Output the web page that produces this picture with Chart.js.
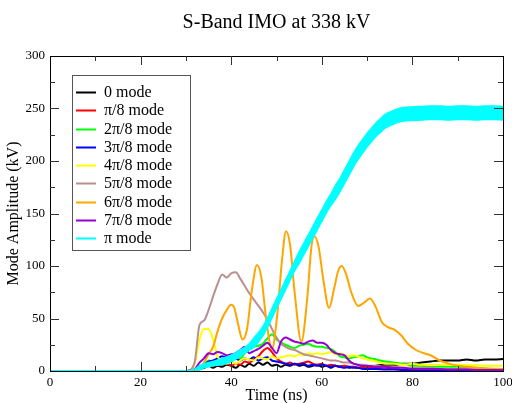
<!DOCTYPE html>
<html><head><meta charset="utf-8">
<script src="https://cdn.jsdelivr.net/npm/chart.js@4/dist/chart.umd.min.js"></script>
<style>html,body{margin:0;padding:0;background:#fff}</style>
</head><body>
<canvas id="c" width="512" height="403"></canvas>
<script>
// ---------- DATA ----------
const chartTitle = 'S-Band IMO at 338 kV';
const xTitle = 'Time (ns)';
const yTitle = 'Mode Amplitude (kV)';
const xTickValues = [0, 20, 40, 60, 80, 100];
const yTickValues = [0, 50, 100, 150, 200, 250, 300];
const legendLabels = ['0 mode', 'π/8 mode', '2π/8 mode', '3π/8 mode', '4π/8 mode', '5π/8 mode', '6π/8 mode', '7π/8 mode', 'π mode'];

// shared time base (ns) for the low-level modes
const time = [0,
  30,31,32,33,34,35,36,37,38,39,
  40,41,42,43,44,45,46,47,48,49,
  50,51,52,53,54,55,56,57,58,59,
  60,61,62,63,64,65,66,67,68,69,
  70,
  72,74,76,78,80,82,84,86,88,90,92,94,96,98,100];

const mode0 = [0,
  0,0.5,1,2,3,5,3,5,4,6,
  5,3,6,4,7,5,8,6,8,5,
  6,4,6,5,7,5,6,4,5,6,
  4,5,3,5,4,5,3,4,3,4,
  4,
  5,6,6,7,7,8,9,10,10,10,11,10,11,11,11.5];
const mode1 = [0,
  0,0.5,1,2,4,6,5,7,6,8,
  5,7,6,9,8,11,14,19,22,18,
  12,9,7,8,6,7,8,9,7,6,
  7,5,6,5,4,5,4,4,3,4,
  3,
  3,3,2.5,2,2,2,2,2,1.5,1.5,1.5,1,1,1,1];
const mode2 = [0,
  0,0.5,1,3,6,10,8,12,10,13,
  11,14,12,17,21,23,24,26,31,35,
  30,27,25,23,22,24,25,26,24,23,
  23,22,21,18,14,13,12,13,14,15,
  13,
  11,9,8,7,5,5,4,4,4,4,3.5,3,2.5,2,1.5];
const mode3 = [0,
  0,0.5,1,3,6,9,10,12,14,13,
  15,12,10,12,11,13,10,12,13,10,
  9,8,7,6,7,6,7,5,6,5,
  6,5,4,5,4,3,4,3,3,2,
  2,
  2,1.5,1.5,1,1,1,1,1,0.5,0.5,0.5,0.5,0.5,0.5,0.5];
const mode4 = [0,
  0,1,8,30,40,40,30,14,9,7,
  9,7,10,12,11,10,13,12,11,14,
  12,13,14,15,14,16,15,17,16,17,
  16,17,18,16,17,15,14,15,14,12,
  11,
  9,7,7,6,7,6,6,6,6,6,5.5,5.5,5,5,5];
const mode5 = [0,
  0,1,10,44,48,58,71,83,92,89,
  93,94,88,81,74,68,62,56,49,40,
  32,26,23,21,20,18,16,15,14,13,
  12,11,10,10,9,8,8,7,6,6,
  5,
  5,4,4,3,3,3,3,2,2,2,2,2,1.5,1.5,1.5];
const mode7 = [0,
  0,0.5,2,8,12,17,16,18,17,15,
  16,17,20,23,17,19,21,24,27,22,
  17,28,32,30,28,27,26,28,29,27,
  27,25,20,17,16,15,10,7,6,5,
  5,
  4,4,3,3,2,2,2,2,1.5,1.5,1.5,1,1,1,1];

// 6π/8 mode has its own, denser time base
const time6 = [0,32,33,34,35,36,37,38,39,40,
  40.7,41.5,42.5,43.5,44.5,45.7,46.7,47.7,49,50.2,
  51.2,52.1,53,54,55.5,56.8,57.7,58.4,59.3,60.4,
  61.6,62.7,63.6,64.4,65.3,66.5,68,69.3,70.6,71.8,
  73.2,74.5,76.2,77.5,79,80.8,82.5,84,86,88,
  90,93,96,100];
const mode6 = [0,0,2,8,16,23,38,50,58,63,
  60,45,30,40,75,101,88,50,21,55,
  105,133,120,75,28,70,118,128,118,85,
  60,78,95,100,93,75,62,65,69,62,
  47,42,39,34,26,20,17,15,10,7,
  5,3.5,2.5,2];

// π mode: noisy thick band, upper and lower edge of the band
const timePi = [0,30,31,32,33,34,35,36,38,40,42,44,
  45,46,47,48,49,50,51,52,53,54,55,56,57,58,59,60,61,62,
  63,64,65,66,67,68,69,70,71,72,73,74,75,76,77,78,79,80,
  82,84,86,88,90,92,94,96,98,100];
const modePiUpper = [0.3,0.3,0.8,1.8,5,7,8,9,12,15,20,26,
  31.5,36.5,42.5,50.5,59.5,68.5,77.5,86.5,95.5,104.5,113.5,121.5,129.5,137.5,145.5,153.5,161.5,168.5,
  176.5,183.5,191.5,199.5,207.5,214.5,220.5,226.5,231.5,236.5,240.5,244.5,246.5,248.5,250,251,251.5,251.5,
  252,252.5,252.5,252,252.5,252.5,252,252.5,252.5,252];
const modePiLower = [-0.3,-0.3,0.2,1.2,1,3,4,5,6,9,14,20,
  22.5,27.5,33.5,41.5,50.5,59.5,68.5,77.5,86.5,95.5,102.5,110.5,118.5,126.5,134.5,142.5,150.5,157.5,
  163.5,170.5,178.5,186.5,194.5,201.5,207.5,213.5,218.5,223.5,227.5,231.5,233.5,235.5,237,238,238.5,238.5,
  239,239.5,239.5,239,239.5,239.5,239,239.5,239.5,239];

// ---------- STYLE ----------
const FONT = "'Liberation Serif', 'Times New Roman', serif";
const colors = ['#000000', '#ff0000', '#00ff00', '#0000ff', '#ffff00', '#bc8f8f', '#ffa500', '#9400d3', '#00ffff'];

function pts(t, v) { return t.map((x, i) => ({x: x, y: v[i]})); }

const series = [
  [time, mode0], [time, mode1], [time, mode2], [time, mode3], [time, mode4],
  [time, mode5], [time6, mode6], [time, mode7]
];

const datasets = series.map((s, i) => ({
  label: legendLabels[i],
  data: pts(s[0], s[1]),
  borderColor: colors[i],
  backgroundColor: colors[i],
  borderWidth: 2,
  pointRadius: 0,
  fill: false,
  cubicInterpolationMode: 'monotone',
  order: 20 - i
}));
datasets.push({
  label: legendLabels[8],
  data: pts(timePi, modePiUpper),
  borderColor: colors[8], backgroundColor: colors[8],
  borderWidth: 1.5, pointRadius: 0, fill: false,
  cubicInterpolationMode: 'monotone', order: 1
});
datasets.push({
  label: legendLabels[8] + ' (band)',
  data: pts(timePi, modePiLower),
  borderColor: colors[8], backgroundColor: colors[8],
  borderWidth: 1.5, pointRadius: 0, fill: '-1',
  cubicInterpolationMode: 'monotone', order: 0
});

const framePlugin = {
  id: 'frameTicks',
  afterDraw(chart) {
    const ctx = chart.ctx, a = chart.chartArea;
    const xs = chart.scales.x, ys = chart.scales.y;
    ctx.save();
    ctx.strokeStyle = '#000';
    ctx.lineWidth = 1;
    ctx.strokeRect(Math.round(a.left) + 0.5, Math.round(a.top) + 0.5, Math.round(a.right - a.left), Math.round(a.bottom - a.top));
    ctx.strokeStyle = '#333';
    ctx.beginPath();
    for (let v = 10; v < 100; v += 10) {
      const len = (v % 20 === 0) ? 9 : 5;
      const px = Math.round(xs.getPixelForValue(v)) + 0.5;
      ctx.moveTo(px, a.bottom); ctx.lineTo(px, a.bottom - len);
      ctx.moveTo(px, a.top); ctx.lineTo(px, a.top + len);
    }
    for (let v = 25; v < 300; v += 25) {
      const len = (v % 50 === 0) ? 9 : 5;
      const py = Math.round(ys.getPixelForValue(v)) + 0.5;
      ctx.moveTo(a.left, py); ctx.lineTo(a.left + len, py);
      ctx.moveTo(a.right, py); ctx.lineTo(a.right - len, py);
    }
    ctx.stroke();

    // title
    ctx.fillStyle = '#000';
    ctx.font = '20px ' + FONT;
    ctx.textAlign = 'center';
    ctx.textBaseline = 'alphabetic';
    ctx.fillText(chartTitle, (a.left + a.right) / 2, 28);

    // legend box
    const bx = 72, by = 75, bw = 118, bh = 175;
    ctx.fillStyle = '#fff';
    ctx.fillRect(bx, by, bw, bh);
    ctx.strokeStyle = '#555';
    ctx.strokeRect(bx + 0.5, by + 0.5, bw, bh);
    ctx.font = '16px ' + FONT;
    ctx.textAlign = 'left';
    ctx.textBaseline = 'middle';
    for (let i = 0; i < legendLabels.length; i++) {
      const y = 92 + i * 18.25;
      ctx.strokeStyle = colors[i];
      ctx.lineWidth = 2;
      ctx.beginPath();
      ctx.moveTo(76, Math.round(y) + 0.5); ctx.lineTo(96, Math.round(y) + 0.5);
      ctx.stroke();
      ctx.fillStyle = '#000';
      ctx.fillText(legendLabels[i], 104, y + 1);
    }
    ctx.restore();
  }
};

new Chart(document.getElementById('c'), {
  type: 'line',
  data: { datasets: datasets },
  options: {
    responsive: false,
    animation: false,
    layout: { padding: { top: 56, right: 9, left: 0, bottom: 0 } },
    plugins: { legend: { display: false }, tooltip: { enabled: false }, title: { display: false } },
    scales: {
      x: {
        type: 'linear', min: 0, max: 100,
        afterBuildTicks: s => { s.ticks = xTickValues.map(v => ({value: v})); },
        ticks: { font: { family: FONT, size: 13 }, color: '#000', padding: 4, maxRotation: 0, autoSkip: false },
        grid: { display: false, drawTicks: false },
        border: { display: false },
        title: { display: true, text: xTitle, font: { family: FONT, size: 16 }, color: '#000', padding: { top: 0, bottom: -2 } },
        afterFit: s => { s.height = 32; s.paddingLeft = 0; s.paddingRight = 0; }
      },
      y: {
        type: 'linear', min: 0, max: 300,
        afterBuildTicks: s => { s.ticks = yTickValues.map(v => ({value: v})); },
        ticks: { font: { family: FONT, size: 13 }, color: '#000', padding: 5 },
        grid: { display: false, drawTicks: false },
        border: { display: false },
        title: { display: true, text: yTitle, font: { family: FONT, size: 16 }, color: '#000', padding: { top: 4, bottom: 0 } },
        afterFit: s => { s.width = 50; s.paddingTop = 0; s.paddingBottom = 0; }
      }
    }
  },
  plugins: [framePlugin]
});
</script>
</body></html>
